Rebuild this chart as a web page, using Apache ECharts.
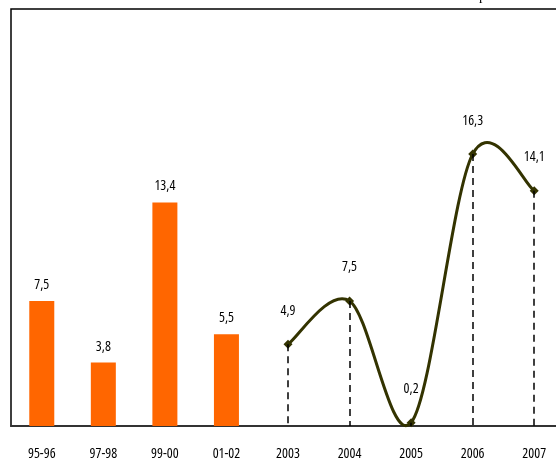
<!DOCTYPE html>
<html><head><meta charset="utf-8">
<script src="https://cdn.jsdelivr.net/npm/echarts@6/dist/echarts.min.js"></script>
<style>html,body{margin:0;padding:0;background:#fff}#c{width:556px;height:466px}</style>
</head><body><div id="c"></div>
<script>
const categories = ['95-96','97-98','99-00','01-02','2003','2004','2005','2006','2007'];
const barValues = [7.5, 3.8, 13.4, 5.5, null, null, null, null, null];
const lineValues = [null, null, null, null, 4.9, 7.5, 0.2, 16.3, 14.1];

const FONT = '"Open Sans","Liberation Sans",Arial,sans-serif';
const TXT = { color: '#000', fontFamily: FONT, fontStyle: 'condensed', fontSize: 14 };
const fmt = p => String(Array.isArray(p.value) ? p.value[1] : p.value).replace('.', ',');

const dropLines = [];
lineValues.forEach((v, i) => {
  if (v !== null) dropLines.push([{ coord: [categories[i], v] }, { coord: [categories[i], 0] }]);
});
const validIdx = lineValues.map((v, i) => v === null ? -1 : i).filter(i => i >= 0);

function renderCurve(params, api) {
  if (params.dataIndex !== 0) return null;
  const pts = validIdx.map(i => api.coord([i, lineValues[i]]));
  const n = pts.length;
  let d = 'M' + pts[0][0] + ' ' + pts[0][1];
  for (let k = 0; k < n - 1; k++) {
    const p0 = pts[Math.max(k - 1, 0)], p1 = pts[k], p2 = pts[k + 1], p3 = pts[Math.min(k + 2, n - 1)];
    const c1x = p1[0] + (p2[0] - p0[0]) / 6, c1y = p1[1] + (p2[1] - p0[1]) / 6;
    const c2x = p2[0] - (p3[0] - p1[0]) / 6, c2y = p2[1] - (p3[1] - p1[1]) / 6;
    d += ' C' + c1x + ' ' + c1y + ' ' + c2x + ' ' + c2y + ' ' + p2[0] + ' ' + p2[1];
  }
  return { type: 'path', shape: { pathData: d }, style: { fill: null, stroke: '#333300', lineWidth: 3 } };
}

const chart = echarts.init(document.getElementById('c'), null, { renderer: 'canvas' });
chart.setOption({
  animation: false,
  grid: { left: 11, top: 9, width: 554, height: 417, outerBoundsMode: 'none', show: true, borderColor: '#000', borderWidth: 1.5, backgroundColor: 'transparent' },
  xAxis: {
    type: 'category', data: categories, boundaryGap: true,
    axisLine: { lineStyle: { color: '#333', width: 2 } },
    axisTick: { length: 5, lineStyle: { color: '#333', width: 1 } },
    axisLabel: Object.assign({ margin: 21 }, TXT)
  },
  yAxis: { type: 'value', min: 0, max: 25, show: false, splitLine: { show: false } },
  graphic: [{
    type: 'text', left: 479, top: -11,
    style: { text: 'p', fill: '#000', font: '14px "Liberation Serif", serif' }
  }],
  series: [
    {
      type: 'bar', data: barValues, barWidth: 25,
      itemStyle: { color: '#FF6600' },
      label: Object.assign({ show: true, position: 'top', distance: 9, formatter: fmt }, TXT)
    },
    {
      type: 'custom', renderItem: renderCurve, clip: false,
      data: validIdx.map(i => [i, lineValues[i]]),
      silent: true, z: 2
    },
    {
      type: 'line', data: lineValues, smooth: false,
      symbol: 'diamond', symbolSize: 9,
      lineStyle: { opacity: 0 },
      itemStyle: { color: '#333300' },
      label: Object.assign({ show: true, position: 'top', distance: 22, formatter: fmt }, TXT),
      markLine: {
        silent: true, symbol: 'none', label: { show: false },
        lineStyle: { color: '#000', type: [7, 5], width: 1.5 },
        data: dropLines
      },
      z: 3
    }
  ]
});
</script></body></html>
